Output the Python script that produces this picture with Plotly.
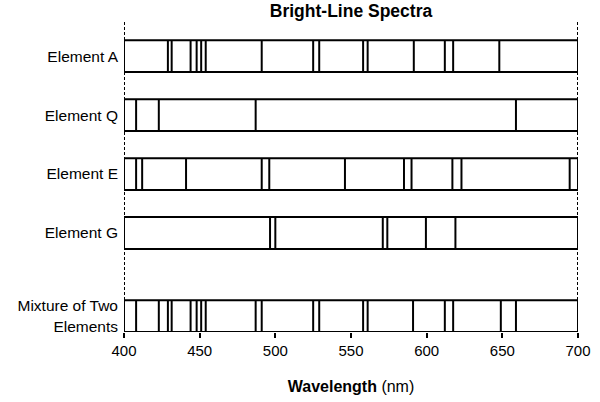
import plotly.graph_objects as go

# wavelengths (nm) of the bright lines
element_a = [429, 431.5, 444, 448, 451, 454, 491, 525, 529, 558, 561, 591.5, 612, 617.5, 648]
element_q = [408, 423, 487, 659]
element_e = [408, 412, 441, 491, 496, 546, 585, 590, 617, 623, 694.5]
element_g = [496.5, 500, 571, 574, 599.5, 619]
mixture = [408, 423, 429, 431.5, 444, 448, 451, 454, 487, 491, 525, 529,
           558, 561, 591, 612, 617.5, 649, 659]

row_names = ["Element A", "Element Q", "Element E", "Element G", "Mixture of Two<br>Elements"]
spectra = [element_a, element_q, element_e, element_g, mixture]

wl_min, wl_max = 400, 700
x_ticks = [400, 450, 500, 550, 600, 650, 700]

# layout of rows
row_y = [0, 1, 2, 3, 4.41]
half = 0.27

fig = go.Figure()

for yc, lines in zip(row_y, spectra):
    top, bot = yc - half, yc + half
    # box
    fig.add_trace(go.Scatter(
        x=[wl_min, wl_max, wl_max, wl_min, wl_min],
        y=[top, top, bot, bot, top],
        mode="lines",
        line=dict(color="black", width=2),
        hoverinfo="skip",
        showlegend=False
    ))
    # bright lines
    xs, ys = [], []
    for w in lines:
        xs += [w, w, None]
        ys += [top, bot, None]
    fig.add_trace(go.Scatter(
        x=xs, y=ys,
        mode="lines",
        line=dict(color="black", width=2),
        hoverinfo="skip",
        showlegend=False
    ))

# dotted guides
y_top = -0.58
for w in (wl_min, wl_max):
    fig.add_trace(go.Scatter(
        x=[w, w], y=[y_top, row_y[-1] - half],
        mode="lines",
        line=dict(color="black", width=2, dash="3px,2px"),
        hoverinfo="skip",
        showlegend=False
    ))

fig.update_layout(
    width=600,
    height=402,
    plot_bgcolor="white",
    paper_bgcolor="white",
    font=dict(family="Arial, Liberation Sans, sans-serif", size=14, color="black"),
    margin=dict(l=124, r=22, t=22, b=70, autoexpand=False),
    title=dict(
        text="<b>Bright-Line Spectra</b>",
        x=0.585, xanchor="center",
        y=1 - 11 / 402, yanchor="middle",
        font=dict(size=17.5)
    ),
)

fig.update_xaxes(
    range=[wl_min, wl_max],
    tickvals=x_ticks,
    ticks="outside",
    ticklen=5,
    tickwidth=1.5,
    tickcolor="black",
    showline=False,
    showgrid=False,
    zeroline=False,
    automargin=False,
    tickfont=dict(size=15),
    title=dict(text="<b>Wavelength</b> (nm)", font=dict(size=16), standoff=22)
)

fig.update_yaxes(
    range=[row_y[-1] + half, y_top],
    tickvals=row_y,
    ticktext=row_names,
    showgrid=False,
    zeroline=False,
    showline=False,
    ticks="",
    automargin=False,
    ticklabelstandoff=5,
    tickfont=dict(size=15.5)
)

# page body has a default margin; remove it so the figure sits at 0,0
fig.write_html("out.html", config={"displayModeBar": False},
               post_script="document.body.style.margin='0';")
